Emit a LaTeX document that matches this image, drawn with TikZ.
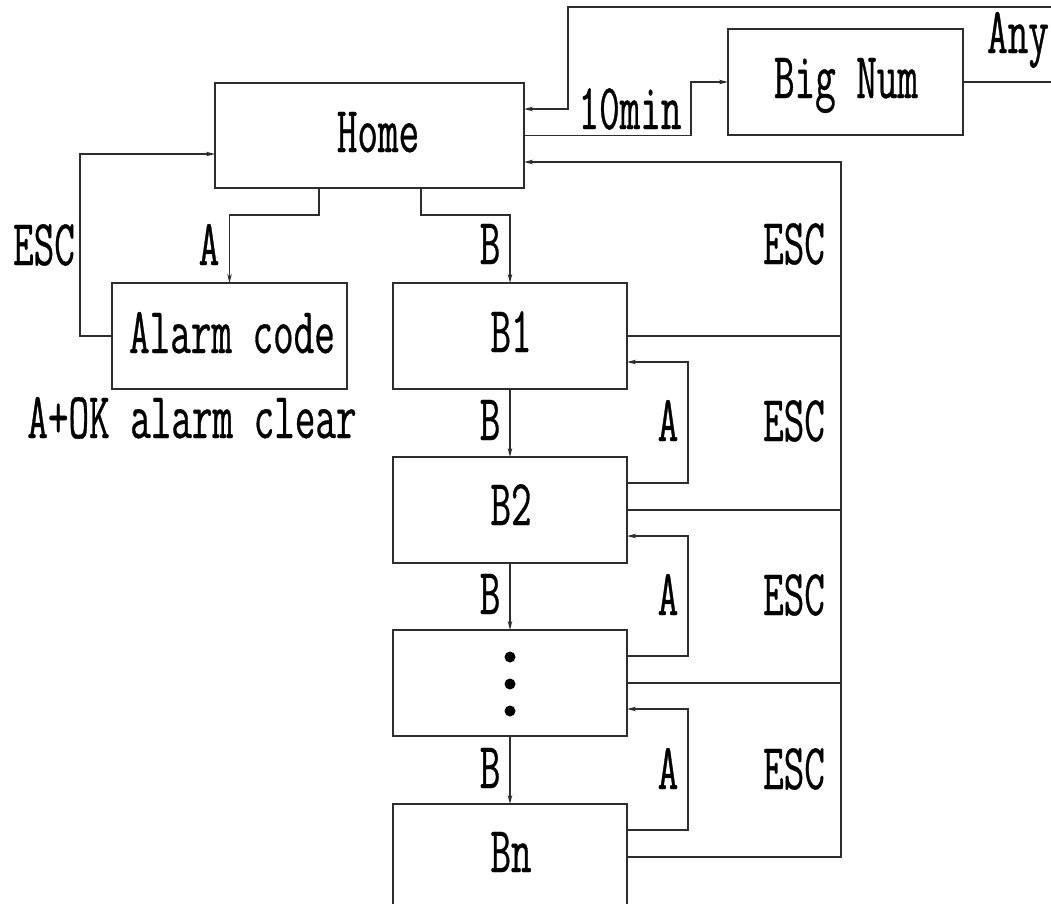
\documentclass[tikz,border=0pt]{standalone}
\usepackage{fontspec}
\newfontfamily\cf{Latin Modern Mono}[FakeStretch=0.61, FakeBold=0.5]
\usetikzlibrary{arrows.meta}
\definecolor{lc}{RGB}{45,45,45}
\begin{document}
\begin{tikzpicture}[x=1pt,y=-1pt,
  ln/.style={line width=1.8pt, draw=lc},
  arr/.style={ln, -{Stealth[length=9pt,width=4.5pt]}},
  box/.style={draw=lc, line width=1.8pt, inner sep=0pt, outer sep=0pt, anchor=north west, minimum height=106pt},
  txt/.style={font=\cf\fontsize{65.5pt}{70pt}\selectfont, inner sep=0pt, anchor=base}
]
\clip (0,0) rectangle (1051,903);
\fill[white] (0,0) rectangle (1051,903);

% boxes
\node[box, minimum width=309pt, minimum height=105pt] (home) at (215,83) {};
\node[box, minimum width=235pt] (bignum) at (728,29) {};
\node[box, minimum width=235pt] (alarm) at (112,283) {};
\node[box, minimum width=234pt] (b1) at (393,283) {};
\node[box, minimum width=234pt] (b2) at (393,457) {};
\node[box, minimum width=234pt] (bd) at (393,630) {};
\node[box, minimum width=234pt] (bn) at (393,804) {};

% box texts
\node[txt] (tHome) at (378,152) {Home};
\node[txt] (tBig) at (846,98) {Big Num};
\node[txt] (tAlarm) at (232,353) {Alarm code};
\node[txt] (tB1) at (511,352) {B1};
\node[txt] (tB2) at (511,525) {B2};
\node[txt] (tBn) at (511,872) {Bn};
\fill (510,657) circle[radius=5.5pt];
\fill (510,684) circle[radius=5.5pt];
\fill (510,711) circle[radius=5.5pt];

% labels
\node[txt] (l10) at (630,129) {10min};
\node[txt] (lAny) at (1018,53) {Any};
\node[txt] (lEscL) at (44,265) {ESC};
\node[txt] (lA0) at (209,265) {A};
\node[txt] (lClr) at (192,438) {A+OK alarm clear};
\node[txt] (lB0) at (490,264) {B};
\node[txt] (lE0) at (794,264) {ESC};
\node[txt] (lB1) at (490,440) {B};
\node[txt] (lA1) at (668,441) {A};
\node[txt] (lE1) at (794,441) {ESC};
\node[txt] (lB2) at (490,614) {B};
\node[txt] (lA2) at (668,615) {A};
\node[txt] (lE2) at (794,615) {ESC};
\node[txt] (lB3) at (490,788) {B};
\node[txt] (lA3) at (668,789) {A};
\node[txt] (lE3) at (794,789) {ESC};

% helper coordinates
\coordinate (hA) at (319,188);
\coordinate (hB) at (421,188);
\coordinate (hEscL) at (215,154);
\coordinate (hTop) at (524,109);
\coordinate (hEscR) at (524,162);
\coordinate (escCol) at (841,162);
\coordinate (rTop) at (1075,7);
\coordinate (lTop) at (568,7);

% Home <-> Alarm
\draw[arr] (hA) -- ++(0,27) -| (alarm.north);
\draw[arr] (alarm.west) -- ++(-32,0) |- (hEscL);

% Home -> B1
\draw[arr] (hB) -- ++(0,27) -| (b1.north);

% Home -> Big Num -> Home
\draw[arr] (home.east) -- ++(167,0) |- (bignum.west);
\draw[arr] (bignum.east) -| (rTop) -- (lTop) |- (hTop);

% B chain
\draw[arr] (b1.south) -- (b2.north);
\draw[arr] (b2.south) -- (bd.north);
\draw[arr] (bd.south) -- (bn.north);

% A loops
\draw[arr] ([yshift=27pt]b2.east) -- ++(61,0) |- ([yshift=-26pt]b1.east);
\draw[arr] ([yshift=27pt]bd.east) -- ++(61,0) |- ([yshift=-26pt]b2.east);
\draw[arr] ([yshift=27pt]bn.east) -- ++(61,0) |- ([yshift=-26pt]bd.east);

% ESC column
\draw[arr] (bn.east) -| (escCol) -- (hEscR);
\draw[ln] (b1.east) -- (b1.east -| escCol);
\draw[ln] (b2.east) -- (b2.east -| escCol);
\draw[ln] (bd.east) -- (bd.east -| escCol);
\end{tikzpicture}
\end{document}
